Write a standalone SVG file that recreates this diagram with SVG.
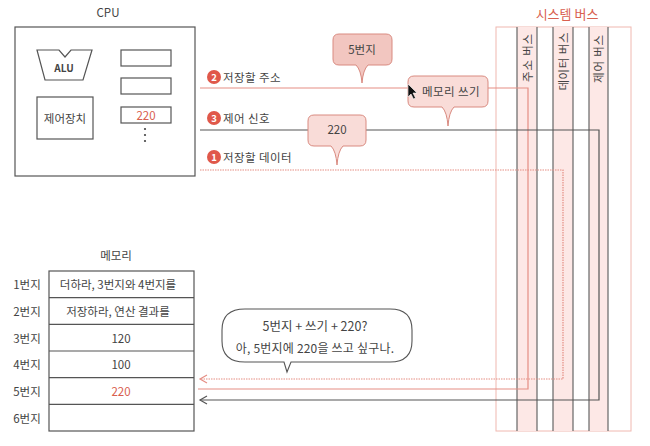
<svg xmlns="http://www.w3.org/2000/svg" width="650" height="446" viewBox="0 0 650 446">
<defs>
<style>
text{font-family:"Noto Sans CJK KR","Noto Sans",sans-serif;fill:#444;font-size:11.5px}
.c{text-anchor:middle;dominant-baseline:central}
.red{fill:#d9604f}
.box{fill:#fff;stroke:#555;stroke-width:1.2}
.bus{fill:#fde8e6;stroke:none}
.busline{stroke:#666;stroke-width:1.2;fill:none}
.pk{stroke:#e58e84;stroke-width:1.2;fill:none}
.pkd{stroke:#e58e84;stroke-width:1.2;fill:none;stroke-dasharray:1.5 1}
.dk{stroke:#555;stroke-width:1.2;fill:none}
.num{fill:#e0584a}
.numt{fill:#fff;font-size:9.5px;font-weight:bold}
.call1{fill:#f2c6c0;stroke:#d98a80;stroke-width:1}
.call2{fill:#f9dcd8;stroke:#d98a80;stroke-width:1}
</style>
<marker id="ap" markerWidth="10" markerHeight="10" refX="8" refY="5" orient="auto" markerUnits="userSpaceOnUse"><path d="M1,1 L8,5 L1,9" fill="none" stroke="#e58e84" stroke-width="1.2"/></marker>
<marker id="ad" markerWidth="10" markerHeight="10" refX="8" refY="5" orient="auto" markerUnits="userSpaceOnUse"><path d="M1,1 L8,5 L1,9" fill="none" stroke="#555" stroke-width="1.2"/></marker>
</defs>
<rect width="650" height="446" fill="#fff"/>

<!-- system bus -->
<g id="system-bus">
<text class="c red" x="567" y="13" style="font-size:13px">시스템 버스</text>
<rect x="496" y="27" width="135" height="404" fill="#fff" stroke="#f0b8b0" stroke-width="1"/>
<rect class="bus" x="517" y="27" width="20" height="404"/>
<rect class="bus" x="553" y="27" width="20" height="404"/>
<rect class="bus" x="589" y="27" width="19" height="404"/>
<line class="busline" x1="517" y1="27" x2="517" y2="431"/>
<line class="busline" x1="537" y1="27" x2="537" y2="431"/>
<line class="busline" x1="553" y1="27" x2="553" y2="431"/>
<line class="busline" x1="573" y1="27" x2="573" y2="431"/>
<line class="busline" x1="589" y1="27" x2="589" y2="431"/>
<line class="busline" x1="608" y1="27" x2="608" y2="431"/>
<text transform="translate(527,33) rotate(-90)" text-anchor="end" dominant-baseline="central" style="letter-spacing:0.8px">주소 버스</text>
<text transform="translate(563,32) rotate(-90)" text-anchor="end" dominant-baseline="central" style="letter-spacing:0.5px">데이터 버스</text>
<text transform="translate(598,34) rotate(-90)" text-anchor="end" dominant-baseline="central" style="letter-spacing:0.8px">제어 버스</text>
</g>

<!-- CPU -->
<g id="cpu">
<text class="c" x="108" y="12" style="font-size:11.5px">CPU</text>
<rect class="box" x="15" y="27" width="180" height="149"/>
<polygon class="box" points="37,50 59,50 65,57 71,50 92,50 83,80 45,80"/>
<text class="c" x="64" y="67" style="font-size:10px;font-weight:bold">ALU</text>
<rect class="box" x="37" y="97" width="56" height="42"/>
<text class="c" x="65" y="118">제어장치</text>
<rect class="box" x="121" y="50" width="50" height="16"/>
<rect class="box" x="121" y="78" width="50" height="16"/>
<rect class="box" x="121" y="107" width="50" height="16"/>
<text class="c red" x="146" y="115">220</text>
<circle cx="145" cy="129" r="1.1" fill="#444"/>
<circle cx="145" cy="135" r="1.1" fill="#444"/>
<circle cx="145" cy="141" r="1.1" fill="#444"/>
</g>

<!-- connectors -->
<g id="connectors">
<polyline class="pk" points="200,88 528,88 528,389 198,389"/>
<polyline class="dk" points="200,130 599,130 599,400 200,400" marker-end="url(#ad)"/>
<polyline class="pkd" points="200,170 563,170 563,379 200,379" marker-end="url(#ap)"/>
</g>

<!-- connector labels -->
<g id="label-address">
<circle class="num" cx="214" cy="77" r="7"/>
<text class="c numt" x="214" y="77">2</text>
<text x="223" y="77" dominant-baseline="central" style="letter-spacing:0.4px">저장할 주소</text>
</g>
<g id="label-control">
<circle class="num" cx="214" cy="118" r="7"/>
<text class="c numt" x="214" y="118">3</text>
<text x="223" y="118" dominant-baseline="central" style="letter-spacing:0.4px">제어 신호</text>
</g>
<g id="label-data">
<circle class="num" cx="214" cy="157" r="7"/>
<text class="c numt" x="214" y="157">1</text>
<text x="223" y="157" dominant-baseline="central" style="letter-spacing:0.4px">저장할 데이터</text>
</g>

<!-- callouts -->
<g id="callout-5">
<path class="call1" d="M339,34 H386 Q392,34 392,40 V59 Q392,65 386,65 H368 Q363,70 362,83 Q361,70 356,65 H339 Q333,65 333,59 V40 Q333,34 339,34 Z"/>
<text class="c" x="362" y="49">5번지</text>
</g>
<g id="callout-write">
<path class="call2" d="M414,76 H482 Q488,76 488,82 V101 Q488,107 482,107 H454 Q449,112 448,126 Q447,112 442,107 H414 Q408,107 408,101 V82 Q408,76 414,76 Z"/>
<text class="c" x="451" y="91" style="letter-spacing:0.4px">메모리 쓰기</text>
</g>
<g id="callout-220">
<path class="call2" d="M314,115 H360 Q366,115 366,121 V140 Q366,146 360,146 H343 Q338,151 337,165 Q336,151 331,146 H314 Q308,146 308,140 V121 Q308,115 314,115 Z"/>
<text class="c" x="337" y="129">220</text>
</g>
<g id="cursor">
<polygon points="408,84 408,97 411,94 413.5,99 415.5,98 413,93 417,93" fill="#111" stroke="#fff" stroke-width="0.6"/>
</g>

<!-- memory -->
<g id="memory">
<text class="c" x="116" y="255">메모리</text>
<rect class="box" x="49" y="271" width="145" height="160"/>
<line class="dk" x1="49" y1="297.7" x2="194" y2="297.7"/>
<line class="dk" x1="49" y1="324.3" x2="194" y2="324.3"/>
<line class="dk" x1="49" y1="351" x2="194" y2="351"/>
<line class="dk" x1="49" y1="377.7" x2="194" y2="377.7"/>
<line class="dk" x1="49" y1="404.3" x2="194" y2="404.3"/>
<text class="c" x="27" y="284">1번지</text>
<text class="c" x="27" y="311">2번지</text>
<text class="c" x="27" y="338">3번지</text>
<text class="c" x="27" y="364">4번지</text>
<text class="c" x="27" y="391">5번지</text>
<text class="c" x="27" y="418">6번지</text>
<text class="c" x="118" y="284">더하라, 3번지와 4번지를</text>
<text class="c" x="118" y="311">저장하라, 연산 결과를</text>
<text class="c" x="121" y="338">120</text>
<text class="c" x="121" y="364">100</text>
<text class="c red" x="121" y="391">220</text>
</g>

<!-- speech bubble -->
<g id="speech">
<path d="M245,309 H390 Q412,309 412,330 V341 Q412,362 390,362 H291 L287,372 L284,362 H245 Q222,362 222,341 V330 Q222,309 245,309 Z" fill="#fff" stroke="#555" stroke-width="1.1"/>
<text class="c" x="315" y="325" style="font-size:12.5px">5번지 + 쓰기 + 220?</text>
<text class="c" x="315" y="347" style="font-size:12px;letter-spacing:0.2px">아, 5번지에 220을 쓰고 싶구나.</text>
</g>
</svg>
